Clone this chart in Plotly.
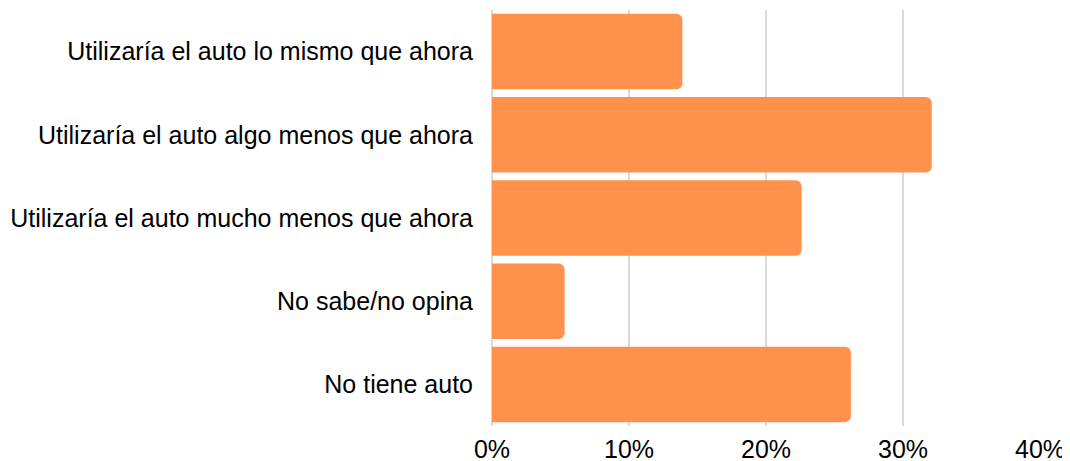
import plotly.graph_objects as go

categories = [
    "Utilizaría el auto lo mismo que ahora",
    "Utilizaría el auto algo menos que ahora",
    "Utilizaría el auto mucho menos que ahora",
    "No sabe/no opina",
    "No tiene auto",
]
shares = [13.9, 32.1, 22.6, 5.3, 26.2]
x_ticks = [0, 10, 20, 30, 40]
x_tick_labels = ["0%", "10%", "20%", "30%", "40%"]

fig = go.Figure(
    go.Bar(
        x=shares,
        y=categories,
        orientation="h",
        marker=dict(color="#FF914D", cornerradius=6, line=dict(width=0)),
        hovertemplate="%{y}: %{x}%<extra></extra>",
    )
)

# the page body adds an 8px offset, so the figure is drawn 8px smaller
fig.update_layout(
    width=1062,
    height=453,
    margin=dict(l=484, r=30, t=2, b=35, autoexpand=False),
    paper_bgcolor="white",
    plot_bgcolor="white",
    font=dict(family="Liberation Sans, Arial, sans-serif", size=25, color="#000000"),
    bargap=0.093,
    showlegend=False,
)

fig.update_xaxes(
    range=[0, 40],
    tickvals=x_ticks,
    ticktext=x_tick_labels,
    showgrid=True,
    gridcolor="#d9d9d9",
    gridwidth=1.5,
    zeroline=True,
    zerolinecolor="#d9d9d9",
    zerolinewidth=1.5,
    showline=False,
    ticks="",
    ticklabelstandoff=6,
    automargin=False,
)

fig.update_yaxes(
    autorange="reversed",
    showgrid=False,
    showline=False,
    ticks="",
    ticklabelstandoff=18,
    automargin=False,
)

fig.write_html("out.html")
